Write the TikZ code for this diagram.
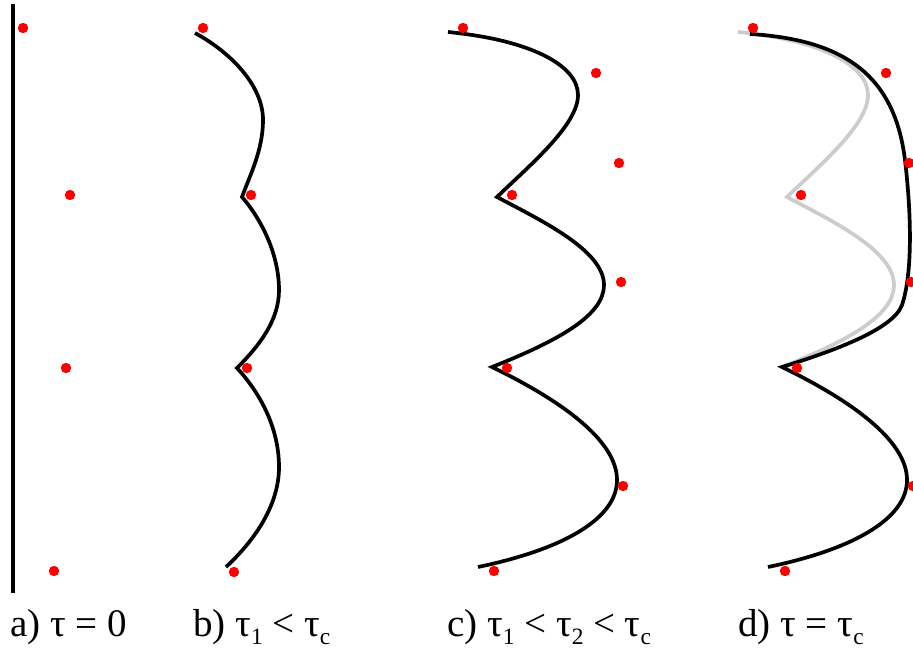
\documentclass[tikz,border=0pt]{standalone}
\usepackage{fontspec}
\newfontfamily\labfont{Liberation Serif}
\newcommand{\mysub}[1]{\raisebox{-0.22em}{\scalebox{0.6}{#1}}}
\begin{document}
\begin{tikzpicture}[x=1pt,y=-1pt,
  curve/.style={line width=3.7pt,black},
  ghost/.style={line width=3.7pt,black!20},
  dot/.style={fill=red,draw=none},
  lab/.style={anchor=base west,inner sep=0pt,font=\labfont\fontsize{39}{41}\selectfont}]
\useasboundingbox (0,0) rectangle (913,648);
% panel a
\draw[curve] (13,4) -- (13,593);
% panel b
\draw[curve,line join=miter] (195,33) .. controls (230,52) and (263,85) .. (263,120)
  .. controls (263,150) and (250,175) .. (242,197)
  .. controls (262,220) and (279,255) .. (279,290)
  .. controls (279,320) and (260,345) .. (237,368)
  .. controls (262,395) and (279,430) .. (279,467)
  .. controls (279,505) and (255,540) .. (226,567);
% panel c
\draw[curve,line join=miter] (448,32) .. controls (530,40) and (578,65) .. (578,95)
  .. controls (578,125) and (530,165) .. (497,197)
  .. controls (540,220) and (604,250) .. (604,285)
  .. controls (604,315) and (560,340) .. (492,367)
  .. controls (560,400) and (617,440) .. (617,480)
  .. controls (617,520) and (560,550) .. (478,567);
% panel d
\begin{scope}[xshift=290pt]
\draw[ghost,line join=miter] (448,32) .. controls (530,40) and (578,65) .. (578,95)
  .. controls (578,125) and (530,165) .. (497,197)
  .. controls (540,220) and (604,250) .. (604,285)
  .. controls (604,315) and (560,340) .. (492,367);
\end{scope}
\draw[curve,line join=miter] (750,34) .. controls (850,40) and (895,80) .. (905,160)
  .. controls (912,220) and (912,275) .. (902,305)
  .. controls (893,330) and (830,352) .. (782,367)
  .. controls (850,400) and (907,440) .. (907,480)
  .. controls (907,520) and (850,550) .. (768,567);
% dots
\foreach \p in {(23,28),(70,195),(66,368),(54,571),
  (203,28),(251,195),(247,368),(234,572),
  (463,28),(596,73),(619,163),(512,195),(621,282),(507,368),(623,486),(494,571),
  (753,28),(886,73),(909,163),(801,195),(911,282),(797,368),(913,486),(785,571)}
  \fill[dot] \p circle (5.2);
% labels
\node[lab] (la) at (10,636) {a) τ = 0};
\node[lab] (lb) at (193,636) {b) τ\mysub{1} < τ\mysub{c}};
\node[lab] (lc) at (447,636) {c) τ\mysub{1} < τ\mysub{2} < τ\mysub{c}};
\node[lab] (ld) at (738,636) {d) τ = τ\mysub{c}};
\end{tikzpicture}
\end{document}
